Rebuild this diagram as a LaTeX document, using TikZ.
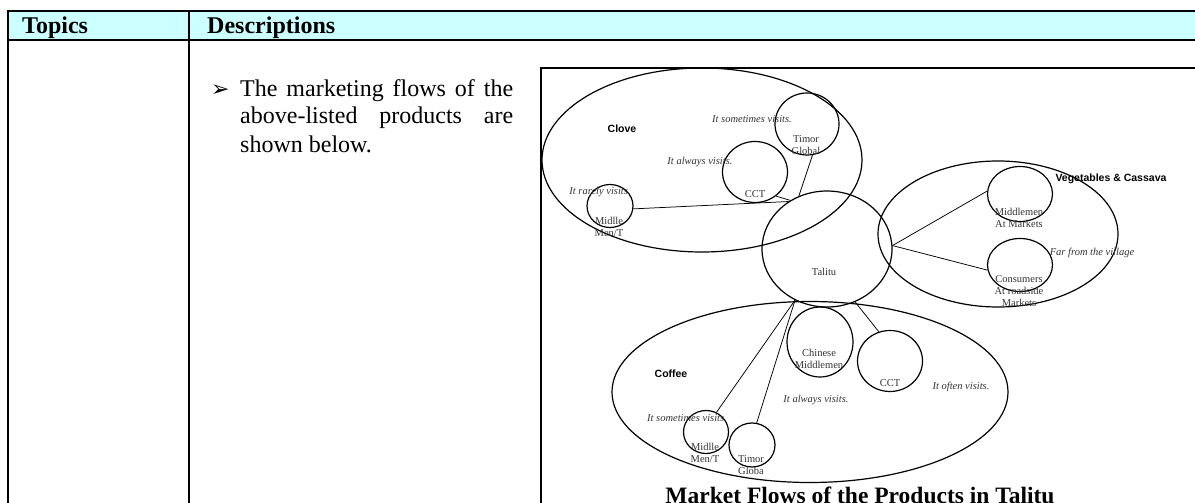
\documentclass[tikz,border=0pt]{standalone}
\usepackage{fontspec}
\setmainfont{Liberation Serif}
\setsansfont{Liberation Sans}
\newfontfamily\symfont{DejaVu Sans}
\usetikzlibrary{shapes.geometric}
\definecolor{headfill}{HTML}{CCFFFF}
\definecolor{inktext}{HTML}{333333}

\begin{document}
\begin{tikzpicture}[x=1pt,y=-1pt,
  rule/.style={line width=2.4pt},
  frameline/.style={line width=1.4pt},
  zone/.style={draw, ellipse, line width=1.2pt, inner sep=0pt},
  actor/.style={draw, ellipse, line width=1.2pt, inner sep=0pt},
  flow/.style={line width=0.75pt},
  head/.style={font=\fontsize{24}{28}\selectfont\bfseries, inner sep=0pt, anchor=base west},
  body/.style={font=\fontsize{24}{28}\selectfont, inner sep=0pt, anchor=base west},
  tag/.style={font=\fontsize{10.5}{12}\selectfont, text=inktext, align=center, inner sep=0pt},
  note/.style={font=\fontsize{10.5}{12}\selectfont\itshape, text=inktext, inner sep=0pt},
  group/.style={font=\fontsize{10.5}{12}\selectfont\sffamily\bfseries, inner sep=0pt},
]
\useasboundingbox (0,0) rectangle (1195,503);

% table header and rules
\fill[headfill] (8,11) rectangle (1195,40);
\draw[rule] (6.8,11) -- (1195,11);
\draw[rule] (6.8,40) -- (1195,40);
\draw[rule] (8,11) -- (8,503);
\draw[rule] (189,11) -- (189,503);
\node[head] (topics) at (22,34) {Topics};
\node[head] (descr) at (207,34) {Descriptions};

% bullet paragraph
\node[font=\symfont\fontsize{22}{22}\selectfont, inner sep=0pt, anchor=base west] (bullet) at (211,96) {➢};
\node[body] (line1) at (240,96) {\makebox[273pt][s]{The marketing flows of the}};
\node[body] (line2) at (240,124) {\makebox[273pt][s]{above-listed products are}};
\node[body] (line3) at (240,152) {shown below.};

% figure frame
\draw[frameline] (541,503) -- (541,68) -- (1195,68);

% product zones and the village
\node[zone, minimum width=320pt, minimum height=184pt] (clove) at (702,160) {};
\node[zone, minimum width=240pt, minimum height=146pt] (veg) at (998,234) {};
\node[zone, minimum width=396pt, minimum height=181pt] (coffee) at (810,392) {};
\node[actor, minimum width=130pt, minimum height=116pt] (tal) at (827,249) {};

% buyers of clove
\node[actor, minimum width=64pt, minimum height=62pt] (c-tg) at (807,124) {};
\node[actor, minimum width=65pt, minimum height=61pt] (c-cct) at (755,172) {};
\node[actor, minimum width=46pt, minimum height=43pt] (c-mm) at (610,206) {};

% buyers of vegetables and cassava
\node[actor, minimum width=65pt, minimum height=55pt] (v-mid) at (1020,194) {};
\node[actor, minimum width=65pt, minimum height=53pt] (v-con) at (1020,265) {};

% buyers of coffee
\node[actor, minimum width=66pt, minimum height=70pt] (f-chi) at (820,342) {};
\node[actor, minimum width=65pt, minimum height=61pt] (f-cct) at (890,361) {};
\node[actor, minimum width=45pt, minimum height=43pt] (f-mm) at (706,432) {};
\node[actor, minimum width=46pt, minimum height=44pt] (f-tg) at (752,445) {};

% flows
\draw[flow] (c-tg.-80) -- (tal.118);
\draw[flow] (c-cct.-49) -- (tal.127);
\draw[flow] (c-mm.-7) -- (tal.129);
\draw[flow] (tal.3) -- (v-mid.175);
\draw[flow] (tal.3) -- (v-con.-171);
\draw[flow] (tal.238) -- (f-mm.62);
\draw[flow] (tal.238) -- (f-tg.78);
\draw[flow] (tal.-62) -- (f-cct.111);

% labels
\node[group] (lbl-clove) at (622,129) {Clove};
\node[group] (lbl-veg) at (1111,179) {Vegetables \& Cassava};
\node[group] (lbl-coffee) at (671,374) {Coffee};
\node[tag] (lbl-tal) at (824,272) {Talitu};

\node[note] (n-c-tg) at (752,119) {It sometimes visits.};
\node[tag] (t-c-tg) at (806,145) {Timor\\Global};
\node[note] (n-c-cct) at (700,162) {It always visits.};
\node[tag] (t-c-cct) at (755,194) {CCT};
\node[note] (n-c-mm) at (600,192) {It rarely visits.};
\node[tag] (t-c-mm) at (609,227) {Midlle\\Men/T};

\node[tag] (t-v-mid) at (1019,218) {Middlemen\\At Markets};
\node[note] (n-v-con) at (1092,253) {Far from the village};
\node[tag] (t-v-con) at (1019,291) {Consumers\\At roadside\\Markets};

\node[tag] (t-f-chi) at (819,358.5) {Chinese\\Middlemen};
\node[tag] (t-f-cct) at (890,383) {CCT};
\node[note] (n-f-cct) at (961,387) {It often visits.};
\node[note] (n-f-chi) at (816,400) {It always visits.};
\node[note] (n-f-mm) at (687,418) {It sometimes visits.};
\node[tag] (t-f-mm) at (705,453) {Midlle\\Men/T};
\node[tag] (t-f-tg) at (751,465.5) {Timor\\Globa};

% caption
\node[font=\fontsize{23.5}{24}\selectfont\bfseries, inner sep=0pt, anchor=base] (title) at (860,503) {Market Flows of the Products in Talitu};
\end{tikzpicture}
\end{document}
